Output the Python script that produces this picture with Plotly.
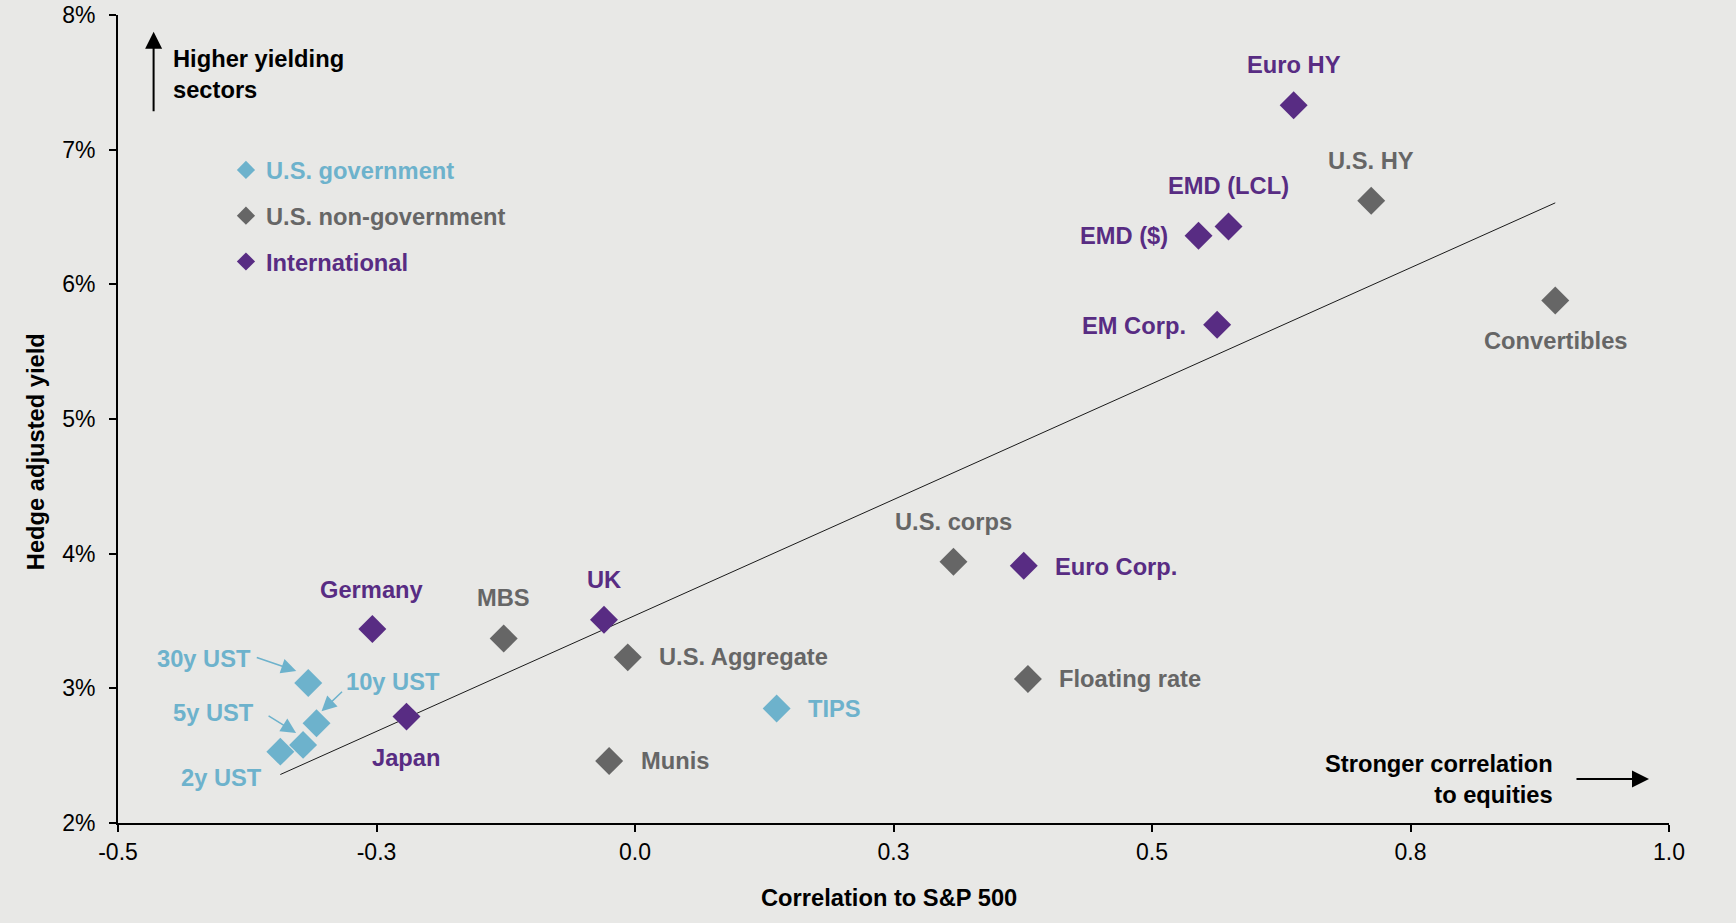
import plotly.graph_objects as go

# ---------------- data ----------------
gov_names = ["2y UST", "5y UST", "10y UST", "30y UST", "TIPS"]
gov_corr = [-0.343, -0.321, -0.308, -0.316, 0.137]
gov_yield = [2.53, 2.58, 2.74, 3.04, 2.85]

nongov_names = ["MBS", "U.S. Aggregate", "Munis", "U.S. corps", "Floating rate", "U.S. HY", "Convertibles"]
nongov_corr = [-0.127, -0.007, -0.025, 0.308, 0.380, 0.712, 0.890]
nongov_yield = [3.37, 3.23, 2.46, 3.94, 3.07, 6.62, 5.88]

intl_names = ["Germany", "Japan", "UK", "Euro Corp.", "EMD ($)", "EMD (LCL)", "EM Corp.", "Euro HY"]
intl_corr = [-0.254, -0.221, -0.030, 0.376, 0.545, 0.574, 0.563, 0.637]
intl_yield = [3.44, 2.79, 3.51, 3.91, 6.36, 6.43, 5.70, 7.33]

trend_corr = [-0.343, 0.890]
trend_yield = [2.36, 6.605]

series_names = ["U.S. government", "U.S. non-government", "International"]

x_tickvals = [-0.5, -0.25, 0.0, 0.25, 0.5, 0.75, 1.0]
x_ticktext = ["-0.5", "-0.3", "0.0", "0.3", "0.5", "0.8", "1.0"]
y_tickvals = [2, 3, 4, 5, 6, 7, 8]
y_ticktext = ["2%", "3%", "4%", "5%", "6%", "7%", "8%"]

x_title = "Correlation to S&P 500"
y_title = "Hedge adjusted yield"
note_up = "Higher yielding<br>sectors"
note_right = "Stronger correlation<br>to equities"

# ---------------- styles ----------------
FONT = "Liberation Sans, Arial, sans-serif"
LBL = 23.7
BG = "#E8E8E6"
COLORS = ["#6DB2CC", "#666666", "#582C83"]

# label placement: (anchor, dx px right, dy px down)
place = {
    "2y UST": ("center", -59, 26),
    "5y UST": ("right", -47, -32),
    "10y UST": ("left", 27, -41),
    "30y UST": ("right", -55, -24),
    "TIPS": ("left", 29, 0),
    "MBS": ("center", 0, -41),
    "U.S. Aggregate": ("left", 29, 0),
    "Munis": ("left", 30, 0),
    "U.S. corps": ("center", 0, -40),
    "Floating rate": ("left", 29, 0),
    "U.S. HY": ("center", 0, -40),
    "Convertibles": ("center", 0, 41),
    "Germany": ("center", 0, -39),
    "Japan": ("center", 0, 41),
    "UK": ("center", 0, -40),
    "Euro Corp.": ("left", 29, 1),
    "EMD ($)": ("right", -29, 0),
    "EMD (LCL)": ("center", 0, -40),
    "EM Corp.": ("right", -29, 1),
    "Euro HY": ("center", 0, -40),
}
# leader arrows: (tip dx, tip dy, tail dx from tip, tail dy from tip) in px
leaders = {
    "30y UST": (-12, -12, -41, -14),
    "10y UST": (5, -12, 22, -21),
    "5y UST": (-7, -12, -29, -18),
}

groups = [
    (gov_names, gov_corr, gov_yield),
    (nongov_names, nongov_corr, nongov_yield),
    (intl_names, intl_corr, intl_yield),
]

fig = go.Figure()

# trend line
fig.add_trace(go.Scatter(x=trend_corr, y=trend_yield, mode="lines",
                         line=dict(color="#1a1a1a", width=1), showlegend=False,
                         hoverinfo="skip"))

annotations = []
for gi, (names, xs, ys) in enumerate(groups):
    col = COLORS[gi]
    fig.add_trace(go.Scatter(x=xs, y=ys, mode="markers", text=names,
                             marker=dict(symbol="diamond", size=21.5, color=col,
                                         line=dict(width=0)),
                             showlegend=False))
    # legend-only entry
    fig.add_trace(go.Scatter(x=[None], y=[None], mode="markers",
                             marker=dict(symbol="diamond", size=14, color=col),
                             name=f'<span style="color:{col}"><b>{series_names[gi]}</b></span>',
                             legendgroup=f"g{gi}", showlegend=True))
    for n, x, y in zip(names, xs, ys):
        anc, dx, dy = place[n]
        annotations.append(dict(x=x, y=y, xref="x", yref="y", text=f"<b>{n}</b>",
                                showarrow=False, xanchor=anc, yanchor="middle",
                                xshift=dx, yshift=-dy,
                                font=dict(family=FONT, size=LBL, color=col)))
        if n in leaders:
            tdx, tdy, ax, ay = leaders[n]
            annotations.append(dict(x=x, y=y, xref="x", yref="y", text="",
                                    showarrow=True, arrowhead=2, arrowsize=2,
                                    arrowwidth=1.5, arrowcolor=col,
                                    ax=ax, ay=ay, xshift=tdx, yshift=-tdy, standoff=0))

# direction notes
annotations += [
    dict(x=0.0356, y=0.9267, xref="paper", yref="paper", text=f"<b>{note_up}</b>",
         showarrow=False, xanchor="left", yanchor="middle", align="left", xshift=-2,
         font=dict(family=FONT, size=LBL, color="black")),
    dict(x=0.02295, y=0.9793, xref="paper", yref="paper", text="", showarrow=True,
         arrowhead=2, arrowsize=1.7, arrowwidth=2, arrowcolor="black", ax=0, ay=81),
    dict(x=0.9265, y=0.0538, xref="paper", yref="paper", text=f"<b>{note_right}</b>",
         showarrow=False, xanchor="right", yanchor="middle", align="right",
         font=dict(family=FONT, size=LBL, color="black")),
    dict(x=0.9871, y=0.0545, xref="paper", yref="paper", text="", showarrow=True,
         arrowhead=2, arrowsize=1.7, arrowwidth=2, arrowcolor="black", ax=-74, ay=0),
    dict(x=0.4973, y=-0.0932, xref="paper", yref="paper", text=f"<b>{x_title}</b>",
         showarrow=False, xanchor="center", yanchor="middle",
         font=dict(family=FONT, size=LBL, color="black")),
    dict(x=-0.0524, y=0.4598, xref="paper", yref="paper", text=f"<b>{y_title}</b>",
         showarrow=False, xanchor="center", yanchor="middle", textangle=-90,
         font=dict(family=FONT, size=LBL, color="black")),
]

axis_common = dict(showline=True, linewidth=2, linecolor="black", ticks="outside",
                   ticklen=7, tickwidth=2, tickcolor="black", showgrid=False,
                   zeroline=False, automargin=False,
                   tickfont=dict(family=FONT, size=23, color="black"))

fig.update_layout(
    width=1736, height=923,
    margin=dict(l=118, r=67, t=15, b=100, autoexpand=False),
    paper_bgcolor=BG, plot_bgcolor=BG,
    xaxis=dict(range=[-0.5, 1.0], tickvals=x_tickvals, ticktext=x_ticktext,
               ticklabelstandoff=0, **axis_common),
    yaxis=dict(range=[2, 8], tickvals=y_tickvals, ticktext=y_ticktext,
               ticklabelstandoff=9, **axis_common),
    showlegend=True,
    legend=dict(x=0.0696, y=0.8354, xanchor="left", yanchor="top",
                bgcolor="rgba(0,0,0,0)", traceorder="grouped", tracegroupgap=12,
                font=dict(family=FONT, size=LBL)),
    annotations=annotations,
)

fig.write_html("out.html", config={"displayModeBar": False},
               post_script="document.body.style.margin='0';document.body.style.background='%s';" % BG)
